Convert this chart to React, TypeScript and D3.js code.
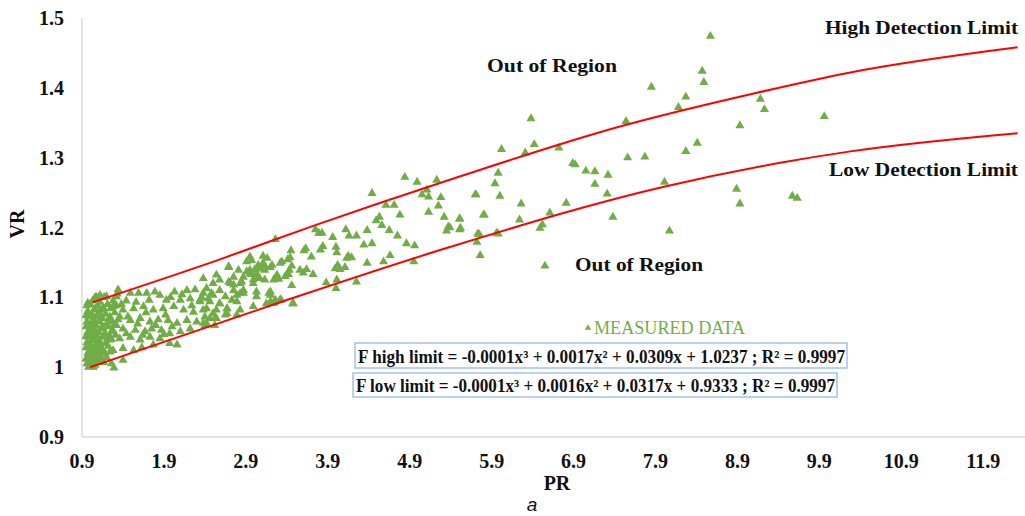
import { useEffect } from "react";
import * as d3 from "d3";

// axis ticks
const xTicks = [0.9, 1.9, 2.9, 3.9, 4.9, 5.9, 6.9, 7.9, 8.9, 9.9, 10.9, 11.9];
const yTicks = [0.9, 1.0, 1.1, 1.2, 1.3, 1.4, 1.5];

// fitted detection limits
const highLimit: [number, number][] = [
  [1.03, 1.093], [2.55, 1.153], [3.74, 1.203], [5.38, 1.268], [7.51, 1.346],
  [9.14, 1.393], [10.28, 1.422], [12.32, 1.458],
];
const lowLimit: [number, number][] = [
  [1.0, 1.0], [3.32, 1.093], [5.39, 1.172], [7.99, 1.258], [9.44, 1.293],
  [10.28, 1.309], [12.32, 1.335],
];

// measured points: the dense blob near PR = 1
const measuredDense: [number, number][] = [
  [0.96, 1.005], [0.97, 1.02], [0.96, 1.035], [0.97, 1.05], [0.96, 1.065], [0.97, 1.08],
  [0.98, 1.012], [0.99, 1.028], [0.98, 1.043], [0.99, 1.058], [0.98, 1.072], [1.0, 1.09],
  [1.0, 1.004], [1.01, 1.018], [1.0, 1.033], [1.02, 1.047], [1.01, 1.062], [1.02, 1.076],
  [1.03, 1.095], [1.03, 1.01], [1.04, 1.025], [1.03, 1.04], [1.05, 1.055], [1.04, 1.068],
  [1.05, 1.083], [1.06, 1.1], [1.06, 1.003], [1.07, 1.016], [1.06, 1.03], [1.08, 1.045],
  [1.07, 1.06], [1.08, 1.073], [1.09, 1.088], [1.1, 1.007], [1.1, 1.022], [1.11, 1.037],
  [1.1, 1.05], [1.12, 1.065], [1.11, 1.079], [1.12, 1.093], [1.14, 1.012], [1.13, 1.028],
  [1.15, 1.043], [1.14, 1.057], [1.15, 1.07], [1.16, 1.085], [1.17, 1.1], [1.18, 1.02],
  [1.19, 1.034], [1.18, 1.048], [1.2, 1.062], [1.19, 1.076], [1.21, 1.09], [1.22, 1.03],
  [1.23, 1.045], [1.22, 1.058], [1.24, 1.072], [1.25, 1.084], [1.26, 1.04], [1.27, 1.053],
  [1.26, 1.067], [1.28, 1.095], [1.29, 1.06], [1.3, 1.078], [1.31, 1.046], [1.32, 1.088],
  [1.33, 1.105], [1.34, 1.068], [0.97, 1.092], [1.05, 1.012], [0.99, 1.075], [1.08, 1.1],
  [1.04, 1.0], [1.16, 1.007], [1.26, 1.005], [1.29, 0.999], [1.12, 1.103], [1.34, 1.111],
  [0.98, 1.0], [1.01, 1.052], [1.09, 1.03], [1.13, 1.082], [1.2, 1.014], [1.24, 1.022],
  [0.95, 1.012], [0.95, 1.028], [0.95, 1.044], [0.95, 1.058], [0.95, 1.074], [0.96, 1.088],
  [1.02, 1.008], [1.07, 1.038], [1.11, 1.013], [1.15, 1.026], [1.21, 1.04], [1.23, 1.066],
];

// measured points: the band from PR 1.2 to 3.5
const measuredBand: [number, number][] = [
  [1.2, 1.101], [1.32, 1.101], [1.49, 1.106], [1.59, 1.106], [1.69, 1.106], [1.79, 1.108],
  [1.85, 1.103], [1.93, 1.096], [2.03, 1.108], [2.1, 1.096], [2.18, 1.11], [2.22, 1.098],
  [2.28, 1.111], [2.34, 1.094], [2.44, 1.098], [2.48, 1.106], [2.54, 1.132], [2.58, 1.091],
  [2.69, 1.144], [2.69, 1.122], [2.75, 1.118], [2.79, 1.094], [2.83, 1.12], [2.87, 1.106],
  [2.91, 1.151], [2.95, 1.134], [2.99, 1.12], [3.03, 1.108], [3.07, 1.127], [3.13, 1.125],
  [3.2, 1.108], [3.22, 1.146], [3.28, 1.132], [1.06, 1.082], [1.16, 1.084], [1.28, 1.087],
  [1.4, 1.082], [1.53, 1.084], [1.65, 1.087], [1.77, 1.082], [1.89, 1.084], [2.02, 1.087],
  [2.14, 1.082], [2.26, 1.079], [2.38, 1.082], [2.5, 1.077], [2.67, 1.084], [2.83, 1.082],
  [2.99, 1.087], [3.15, 1.091], [3.26, 1.096], [1.04, 1.067], [1.12, 1.07], [1.24, 1.065],
  [1.36, 1.072], [1.49, 1.067], [1.61, 1.07], [1.73, 1.065], [1.83, 1.068], [1.95, 1.067],
  [2.06, 1.063], [2.18, 1.067], [2.3, 1.065], [2.42, 1.063], [2.54, 1.07], [2.67, 1.077],
  [2.79, 1.075], [1.04, 1.053], [1.16, 1.055], [1.28, 1.051], [1.4, 1.055], [1.55, 1.053],
  [1.67, 1.051], [1.75, 1.055], [1.87, 1.053], [1.97, 1.048], [2.1, 1.051], [2.22, 1.055],
  [2.4, 1.06], [2.46, 1.07], [1.02, 1.039], [1.12, 1.036], [1.24, 1.039], [1.36, 1.041],
  [1.49, 1.043], [1.61, 1.039], [1.73, 1.043], [1.85, 1.041], [1.97, 1.034], [2.06, 1.032],
  [1.0, 1.024], [1.08, 1.022], [1.16, 1.02], [1.28, 1.024], [1.4, 1.027], [1.53, 1.024],
  [1.63, 1.028], [1.77, 1.032], [1.0, 1.01], [1.16, 1.008], [1.4, 1.01],
  [1.44, 1.095], [1.56, 1.093], [1.72, 1.096], [1.98, 1.1], [2.12, 1.104], [1.38, 1.09],
  [1.46, 1.072], [1.68, 1.078], [1.92, 1.075], [2.24, 1.088], [2.36, 1.1], [1.58, 1.062],
  [1.8, 1.06], [2.0, 1.058], [1.32, 1.06], [1.44, 1.048], [1.64, 1.046], [1.9, 1.047],
  [2.95, 1.158], [2.97, 1.153], [3.11, 1.159], [3.16, 1.156], [3.11, 1.149], [3.05, 1.146],
  [3.07, 1.141], [2.95, 1.139], [3.01, 1.14], [3.03, 1.134], [2.97, 1.133], [2.91, 1.137],
  [3.05, 1.129], [2.99, 1.125], [2.69, 1.143], [2.81, 1.139], [2.87, 1.129], [2.75, 1.129],
  [2.58, 1.125], [2.38, 1.127], [2.5, 1.12], [2.71, 1.12], [2.85, 1.122], [2.87, 1.11],
  [2.42, 1.113], [2.58, 1.11], [2.75, 1.11], [2.38, 1.106], [2.5, 1.103], [2.65, 1.101],
  [2.79, 1.103], [2.34, 1.096], [2.46, 1.094], [2.58, 1.091], [2.73, 1.096], [2.83, 1.106],
  [3.03, 1.101], [2.42, 1.084], [2.54, 1.082], [2.67, 1.084], [2.4, 1.072], [2.52, 1.07],
  [2.65, 1.075], [2.38, 1.063], [2.52, 1.06], [3.2, 1.094], [3.24, 1.092], [3.32, 1.097],
  [3.48, 1.091],
];

// measured points: the scattered part, PR 3 and up
const measuredSparse: [number, number][] = [
  [3.26, 1.183], [3.27, 1.129], [3.24, 1.125], [3.3, 1.126], [3.33, 1.096], [3.24, 1.092],
  [3.18, 1.106], [3.2, 1.103], [3.13, 1.145], [3.13, 1.139], [3.2, 1.143], [3.09, 1.141],
  [3.41, 1.154], [3.44, 1.157], [3.34, 1.151], [3.32, 1.149], [3.43, 1.139], [3.38, 1.13],
  [3.42, 1.133], [3.46, 1.117], [3.47, 1.091], [3.46, 1.145], [3.45, 1.167], [3.56, 1.139],
  [3.64, 1.14], [3.6, 1.135], [3.72, 1.133], [3.7, 1.158], [3.63, 1.17], [3.61, 1.167],
  [3.75, 1.197], [3.79, 1.192], [3.83, 1.192], [3.84, 1.173], [3.81, 1.168], [3.88, 1.121],
  [3.96, 1.186], [4.0, 1.172], [4.01, 1.164], [4.01, 1.125], [4.0, 1.113], [4.02, 1.146],
  [3.99, 1.141], [4.05, 1.14], [4.11, 1.143], [4.13, 1.156], [4.12, 1.197], [4.16, 1.188],
  [4.15, 1.159], [4.19, 1.157], [4.25, 1.188], [4.25, 1.122], [4.34, 1.175], [4.38, 1.196],
  [4.38, 1.149], [4.44, 1.177], [4.44, 1.249], [4.49, 1.21], [4.53, 1.215], [4.56, 1.203],
  [4.58, 1.151], [4.61, 1.232], [4.65, 1.196], [4.66, 1.16], [4.71, 1.232], [4.75, 1.188],
  [4.78, 1.218], [4.84, 1.272], [4.86, 1.177], [4.95, 1.151], [4.96, 1.174], [4.99, 1.265],
  [5.05, 1.247], [5.11, 1.254], [5.13, 1.244], [5.13, 1.222], [5.23, 1.268], [5.25, 1.231],
  [5.28, 1.243], [5.32, 1.215], [5.35, 1.195], [5.37, 1.201], [5.39, 1.2], [5.51, 1.213],
  [5.51, 1.197], [5.52, 1.199], [5.51, 1.212], [5.7, 1.247], [5.71, 1.247], [5.72, 1.179],
  [5.73, 1.191], [5.75, 1.19], [5.76, 1.16], [5.8, 1.218], [5.81, 1.218], [5.94, 1.263],
  [5.96, 1.192], [5.98, 1.278], [5.98, 1.191], [6.0, 1.245], [6.02, 1.312], [6.24, 1.211],
  [6.26, 1.234], [6.31, 1.307], [6.38, 1.356], [6.42, 1.319], [6.49, 1.199], [6.52, 1.204],
  [6.55, 1.145], [6.61, 1.221], [6.72, 1.314], [6.81, 1.235], [6.89, 1.292], [6.92, 1.29],
  [7.05, 1.281], [7.16, 1.28], [7.16, 1.262], [7.31, 1.248], [7.32, 1.275], [7.38, 1.215],
  [7.54, 1.352], [7.56, 1.3], [7.77, 1.301], [7.85, 1.401], [8.01, 1.265], [8.07, 1.195],
  [8.18, 1.372], [8.27, 1.387], [8.27, 1.309], [8.41, 1.321], [8.47, 1.424], [8.49, 1.408],
  [8.57, 1.474], [8.89, 1.255], [8.93, 1.346], [8.93, 1.234], [9.18, 1.384], [9.23, 1.369],
  [9.57, 1.245], [9.63, 1.242], [9.96, 1.359],
];

const W = 1025;
const H = 516;
const GREEN = "#70ad47";
const SERIF = "'Liberation Serif', 'Times New Roman', serif";

export default function App() {
  useEffect(() => {
    document.body.style.margin = "0";
  }, []);

  const x = d3.scaleLinear().domain([0.9, 12.41]).range([82, 1025]);
  const y = d3.scaleLinear().domain([0.9, 1.5]).range([437, 18]);

  const line = d3
    .line<[number, number]>()
    .x((d) => x(d[0]))
    .y((d) => y(d[1]))
    .curve(d3.curveMonotoneX);

  const tri = d3.symbol().type(d3.symbolTriangle).size(36)() || "";
  const legendTri = d3.symbol().type(d3.symbolTriangle).size(18)() || "";

  const points = [...measuredDense, ...measuredBand, ...measuredSparse];
  const fmt = (v: number) => String(+v.toFixed(1));

  return (
    <svg width={W} height={H} style={{ display: "block", background: "#fff" }} fontFamily={SERIF}>
      {/* axes */}
      <line x1={x(0.9)} x2={x(0.9)} y1={y(1.5)} y2={y(0.9)} stroke="#d9d9d9" strokeWidth={1.5} />
      <line x1={x(0.9)} x2={W} y1={y(0.9)} y2={y(0.9)} stroke="#d9d9d9" strokeWidth={1.5} />

      {yTicks.map((t) => (
        <text key={t} x={64} y={y(t) + 7} textAnchor="end" fontSize={20} fontWeight="bold" fill="#111">
          {fmt(t)}
        </text>
      ))}
      {xTicks.map((t) => (
        <text key={t} x={x(t)} y={468} textAnchor="middle" fontSize={20} fontWeight="bold" fill="#111">
          {fmt(t)}
        </text>
      ))}

      <text transform={`translate(24, ${y(1.205)}) rotate(-90)`} textAnchor="middle" fontSize={20} fontWeight="bold" fill="#111">
        VR
      </text>
      <text x={557} y={490} textAnchor="middle" fontSize={20} fontWeight="bold" fill="#111">
        PR
      </text>
      <text x={532} y={511} textAnchor="middle" fontSize={19} fontStyle="italic" fontFamily="'Liberation Sans', Arial, sans-serif" fill="#111">
        a
      </text>

      {/* measured data */}
      <g fill={GREEN}>
        {points.map((p, i) => (
          <path key={i} d={tri} transform={`translate(${x(p[0])},${y(p[1])})`} />
        ))}
      </g>

      {/* limit curves */}
      <path d={line(highLimit) || ""} fill="none" stroke="#ff0000" strokeWidth={2} />
      <path d={line(lowLimit) || ""} fill="none" stroke="#ff0000" strokeWidth={2} />

      {/* annotations */}
      <text x={1018} y={34} textAnchor="end" fontSize={19} fontWeight="bold" fill="#111" textLength={193} lengthAdjust="spacingAndGlyphs">
        High Detection Limit
      </text>
      <text x={1018} y={176} textAnchor="end" fontSize={19} fontWeight="bold" fill="#111" textLength={189} lengthAdjust="spacingAndGlyphs">
        Low Detection Limit
      </text>
      <text x={487} y={72} fontSize={19} fontWeight="bold" fill="#111" textLength={130} lengthAdjust="spacingAndGlyphs">
        Out of Region
      </text>
      <text x={575} y={271} fontSize={19} fontWeight="bold" fill="#111" textLength={128} lengthAdjust="spacingAndGlyphs">
        Out of Region
      </text>

      {/* legend */}
      <path d={legendTri} fill={GREEN} transform="translate(588,328)" />
      <text x={594} y={334} fontSize={19} fill={GREEN} textLength={151} lengthAdjust="spacingAndGlyphs">
        MEASURED DATA
      </text>

      <rect x={355} y={343} width={492} height={25} fill="#fff" stroke="#8db3e2" strokeWidth={1.2} />
      <text x={358} y={362.5} fontSize={18.5} fontWeight="bold" fill="#111" textLength={487} lengthAdjust="spacingAndGlyphs">
        {"F high limit  = -0.0001x³ + 0.0017x² + 0.0309x + 1.0237 ; R² = 0.9997"}
      </text>
      <rect x={353} y={373} width={484} height={24} fill="#fff" stroke="#8db3e2" strokeWidth={1.2} />
      <text x={356} y={391.5} fontSize={18.5} fontWeight="bold" fill="#111" textLength={479} lengthAdjust="spacingAndGlyphs">
        {"F low limit = -0.0001x³ + 0.0016x² + 0.0317x + 0.9333 ; R² = 0.9997"}
      </text>
    </svg>
  );
}
